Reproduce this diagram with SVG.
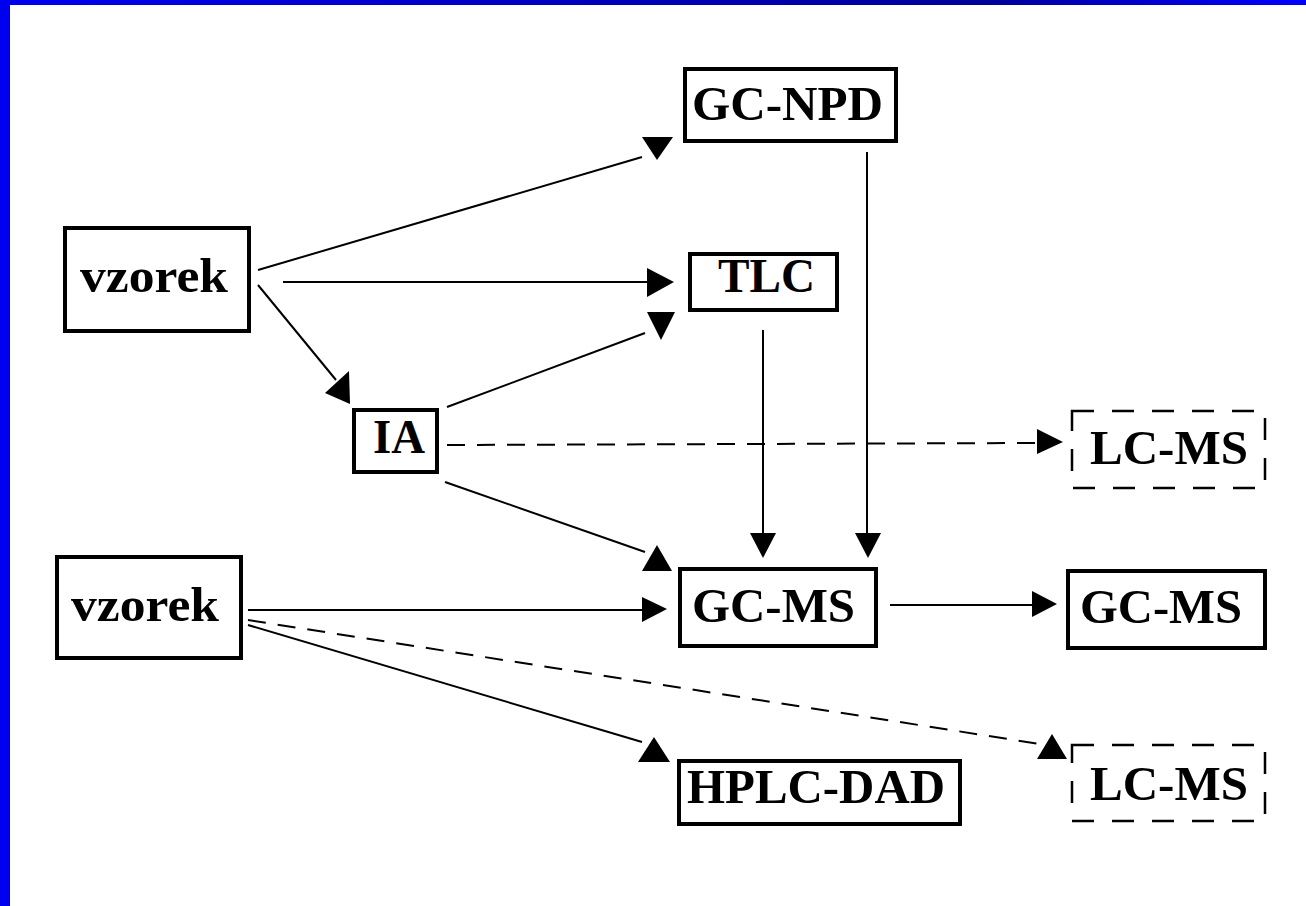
<svg xmlns="http://www.w3.org/2000/svg" width="1306" height="906" viewBox="0 0 1306 906">
<defs>
<linearGradient id="topband" x1="0" y1="0" x2="1" y2="0">
<stop offset="0" stop-color="#0000f0"/>
<stop offset="0.75" stop-color="#00009a"/>
<stop offset="1" stop-color="#0000ff"/>
</linearGradient>
</defs>
<style>
.box{fill:#fff;stroke:#000;stroke-width:4}
.dbox{fill:#fff;stroke:#000;stroke-width:2.5;stroke-dasharray:22 18}
.lbl{font-family:"Liberation Serif","Times New Roman",serif;font-weight:bold;font-size:48px;fill:#000}
.ln{stroke:#000;stroke-width:2;fill:none}
.dl{stroke:#000;stroke-width:2;fill:none;stroke-dasharray:18 12}
.ah{fill:#000}
</style>
<rect x="0" y="0" width="1306" height="906" fill="#fff"/>
<rect x="0" y="0" width="1306" height="5" fill="url(#topband)"/>
<rect x="0" y="0" width="10" height="906" fill="#0000f0"/>

<g id="connectors">
<line class="ln" x1="258" y1="270" x2="642" y2="157"/>
<polygon class="ah" points="642,137 673,137 657,160"/>
<line class="ln" x1="283" y1="282" x2="647" y2="282"/>
<polygon class="ah" points="647,268 674,282 647,297"/>
<line class="ln" x1="258" y1="285" x2="336" y2="380"/>
<polygon class="ah" points="349,371 325,393 350,404"/>
<line class="ln" x1="447" y1="407" x2="645" y2="333"/>
<polygon class="ah" points="647,312 675,312 661,340"/>
<line class="dl" x1="447" y1="445" x2="1037" y2="443"/>
<polygon class="ah" points="1037,429 1063,442 1037,454"/>
<line class="ln" x1="445" y1="482" x2="645" y2="552"/>
<polygon class="ah" points="657,545 672,571 642,571"/>
<line class="ln" x1="763" y1="330" x2="763" y2="534"/>
<polygon class="ah" points="750,533 776,533 763,558"/>
<line class="ln" x1="867" y1="152" x2="867" y2="534"/>
<polygon class="ah" points="855,533 881,533 868,558"/>
<line class="ln" x1="248" y1="610" x2="643" y2="610"/>
<polygon class="ah" points="642,597 667,609 642,622"/>
<line class="ln" x1="890" y1="605" x2="1033" y2="605"/>
<polygon class="ah" points="1032,591 1057,604 1032,617"/>
<line class="dl" x1="248" y1="620" x2="1040" y2="744"/>
<polygon class="ah" points="1052,734 1067,759 1037,759"/>
<line class="ln" x1="248" y1="625" x2="642" y2="742"/>
<polygon class="ah" points="654,737 670,762 638,762"/>
</g>

<g id="vzorek1">
<rect class="box" x="65" y="228" width="184" height="103"/>
<text class="lbl" x="80" y="292" textLength="148" lengthAdjust="spacingAndGlyphs">vzorek</text>
</g>
<g id="vzorek2">
<rect class="box" x="57" y="557" width="184" height="101"/>
<text class="lbl" x="71" y="621" textLength="148" lengthAdjust="spacingAndGlyphs">vzorek</text>
</g>
<g id="ia">
<rect class="box" x="354" y="410" width="83" height="62" stroke-width="3.5"/>
<text class="lbl" x="373" y="453" textLength="52" lengthAdjust="spacingAndGlyphs">IA</text>
</g>
<g id="gcnpd">
<rect class="box" x="685" y="69" width="211" height="72"/>
<text class="lbl" x="692" y="120" textLength="191" lengthAdjust="spacingAndGlyphs">GC-NPD</text>
</g>
<g id="tlc">
<rect class="box" x="690" y="254" width="147" height="56"/>
<text class="lbl" x="718" y="292" textLength="97" lengthAdjust="spacingAndGlyphs">TLC</text>
</g>
<g id="lcms1">
<rect class="dbox" x="1072" y="411" width="193" height="77"/>
<text class="lbl" x="1090" y="464" textLength="158" lengthAdjust="spacingAndGlyphs">LC-MS</text>
</g>
<g id="gcms1">
<rect class="box" x="680" y="569" width="196" height="77"/>
<text class="lbl" x="692" y="622" textLength="163" lengthAdjust="spacingAndGlyphs">GC-MS</text>
</g>
<g id="gcms2">
<rect class="box" x="1068" y="571" width="197" height="77"/>
<text class="lbl" x="1080" y="623" textLength="162" lengthAdjust="spacingAndGlyphs">GC-MS</text>
</g>
<g id="hplcdad">
<rect class="box" x="679" y="761" width="281" height="63"/>
<text class="lbl" x="687" y="803" textLength="258" lengthAdjust="spacingAndGlyphs">HPLC-DAD</text>
</g>
<g id="lcms2">
<rect class="dbox" x="1072" y="745" width="193" height="76"/>
<text class="lbl" x="1090" y="800" textLength="158" lengthAdjust="spacingAndGlyphs">LC-MS</text>
</g>
</svg>
